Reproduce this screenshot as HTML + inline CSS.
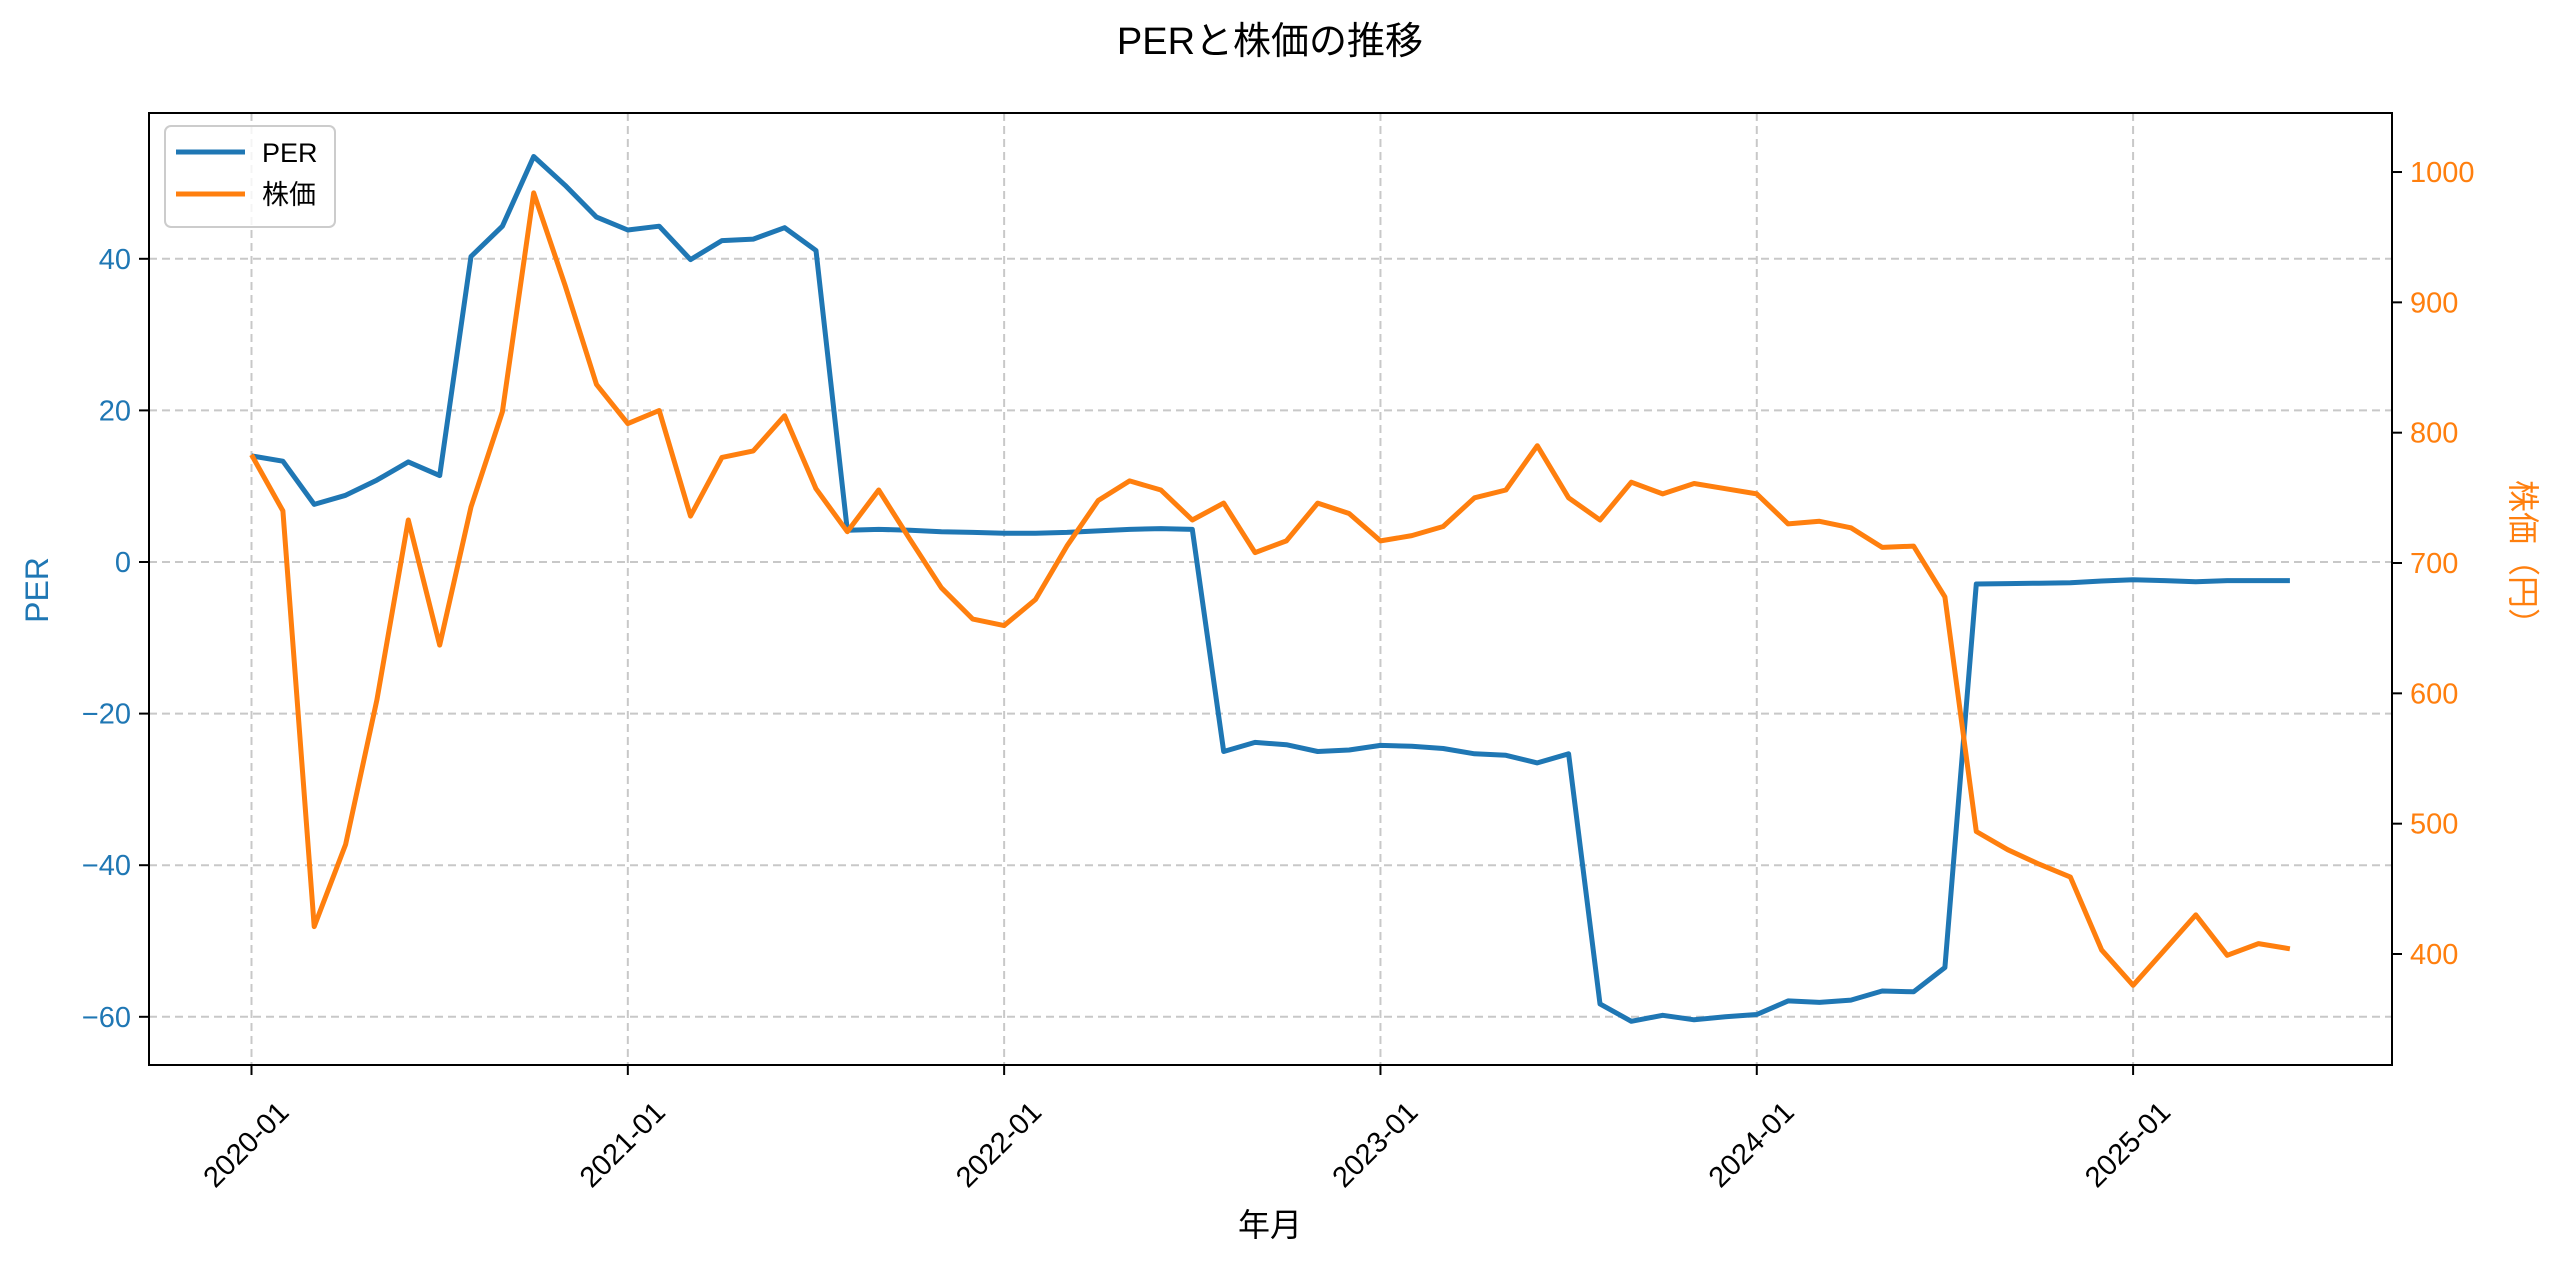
<!DOCTYPE html>
<html><head><meta charset="utf-8">
<style>
html,body{margin:0;padding:0;background:#fff;}
svg text{font-family:"Liberation Sans","Noto Sans CJK JP",sans-serif;}
</style></head>
<body>
<svg id="chart" width="2560" height="1269" viewBox="0 0 2560 1269" xmlns="http://www.w3.org/2000/svg">
<rect width="2560" height="1269" fill="#fff"/>
<text x="1270" y="54" font-size="38" text-anchor="middle" fill="#000">PERと株価の推移</text>
<g id="grid"></g>
<g id="series"></g>
<rect x="149" y="113" width="2243" height="952" fill="none" stroke="#000" stroke-width="2"/>
<g id="axes"></g>
<text transform="translate(48,590) rotate(-90)" font-size="32" text-anchor="middle" fill="#1f77b4">PER</text>
<text transform="translate(2512,560) rotate(90)" font-size="32" text-anchor="middle" fill="#ff7f0e">株価（円）</text>
<text x="1270" y="1236" font-size="32" text-anchor="middle" fill="#000">年月</text>
<g>
<rect x="165" y="126" width="170" height="101" rx="6" fill="#fff" fill-opacity="0.8" stroke="#ccc" stroke-width="2"/>
<line x1="176" y1="152" x2="245" y2="152" stroke="#1f77b4" stroke-width="5"/>
<text x="262" y="162" font-size="27" fill="#000">PER</text>
<line x1="176" y1="194" x2="245" y2="194" stroke="#ff7f0e" stroke-width="5"/>
<text x="262" y="204" font-size="27" fill="#000">株価</text>
</g>
</svg>
<script>
const perValues = [14,13.3,7.6,8.8,10.8,13.2,11.4,40.3,44.3,53.5,49.7,45.5,43.8,44.3,39.9,42.4,42.6,44.1,41.1,4.2,4.3,4.2,4.0,3.9,3.8,3.8,3.9,4.1,4.3,4.4,4.3,-25.0,-23.8,-24.1,-25.0,-24.8,-24.2,-24.3,-24.6,-25.3,-25.5,-26.5,-25.3,-58.3,-60.6,-59.8,-60.4,-60.0,-59.7,-57.9,-58.1,-57.8,-56.6,-56.7,-53.5,-2.9,-2.85,-2.8,-2.75,-2.5,-2.35,-2.45,-2.6,-2.45,-2.45,-2.45];
const priceValues = [783,740,421,484,595,733,637,743,816,984,913,837,807,817,736,781,786,813,757,724,756,718,681,657,652,672,713,748,763,756,733,746,708,717,746,738,717,721,728,750,756,790,750,733,762,753,761,757,753,730,732,727,712,713,674,494,480,469,459,403,376,403,430,399,408,404];
const startYear = 2020;
const perTicks = [-60,-40,-20,0,20,40];
const perTickLabels = ["−60","−40","−20","0","20","40"];
const priceTicks = [400,500,600,700,800,900,1000];
const xTickLabels = ["2020-01","2021-01","2022-01","2023-01","2024-01","2025-01"];

const NS = "http://www.w3.org/2000/svg";
function xScale(monthIndex){ return 251.5 + monthIndex * 31.36; }
function yPer(v){ return 562 - v * 7.58; }
function yPrice(v){ return 954 - (v - 400) * 1.3033; }
function mk(tag, attrs, parent){
  const el = document.createElementNS(NS, tag);
  for (const k in attrs) el.setAttribute(k, attrs[k]);
  parent.appendChild(el);
  return el;
}
const grid = document.getElementById('grid');
const axes = document.getElementById('axes');
const series = document.getElementById('series');

perTicks.forEach((t, i) => {
  const y = yPer(t);
  const g = mk('line', {x1:149, x2:2392, y1:y, y2:y, stroke:'#c8c8c8', 'stroke-width':2, 'stroke-dasharray':'8,5'}, grid);
  
  
  const tk = mk('line', {x1:139, x2:149, y1:y, y2:y, stroke:'#000', 'stroke-width':2}, axes);
  
  
  const tx = mk('text', {x:131, y:y + 10, 'font-size':29, 'text-anchor':'end', fill:'#1f77b4'}, axes);
  tx.textContent = perTickLabels[i];
  
  
});
priceTicks.forEach(t => {
  const y = yPrice(t);
  const tk = mk('line', {x1:2392, x2:2402, y1:y, y2:y, stroke:'#000', 'stroke-width':2}, axes);
  
  
  const tx = mk('text', {x:2410, y:y + 10, 'font-size':29, 'text-anchor':'start', fill:'#ff7f0e'}, axes);
  tx.textContent = String(t);
  
  
});
xTickLabels.forEach((lab, i) => {
  const x = xScale(i * 12);
  const g = mk('line', {x1:x, x2:x, y1:113, y2:1065, stroke:'#c8c8c8', 'stroke-width':2, 'stroke-dasharray':'8,5'}, grid);
  
  
  const tk = mk('line', {x1:x, x2:x, y1:1065, y2:1075, stroke:'#000', 'stroke-width':2}, axes);
  
  
  const tx = mk('text', {transform:`translate(${x-4},1146) rotate(-45)`, 'font-size':29, 'text-anchor':'middle', 'dominant-baseline':'middle', fill:'#000'}, axes);
  tx.textContent = lab;
  
  
});

const perPts = perValues.map((v, i) => xScale(i).toFixed(1) + ',' + yPer(v).toFixed(1)).join(' ');
const perLine = mk('polyline', {points: perPts, fill:'none', stroke:'#1f77b4', 'stroke-width':5, 'stroke-linejoin':'round'}, series);


const pricePts = priceValues.map((v, i) => xScale(i).toFixed(1) + ',' + yPrice(v).toFixed(1)).join(' ');
const priceLine = mk('polyline', {points: pricePts, fill:'none', stroke:'#ff7f0e', 'stroke-width':5, 'stroke-linejoin':'round'}, series);


</script>
</body></html>
